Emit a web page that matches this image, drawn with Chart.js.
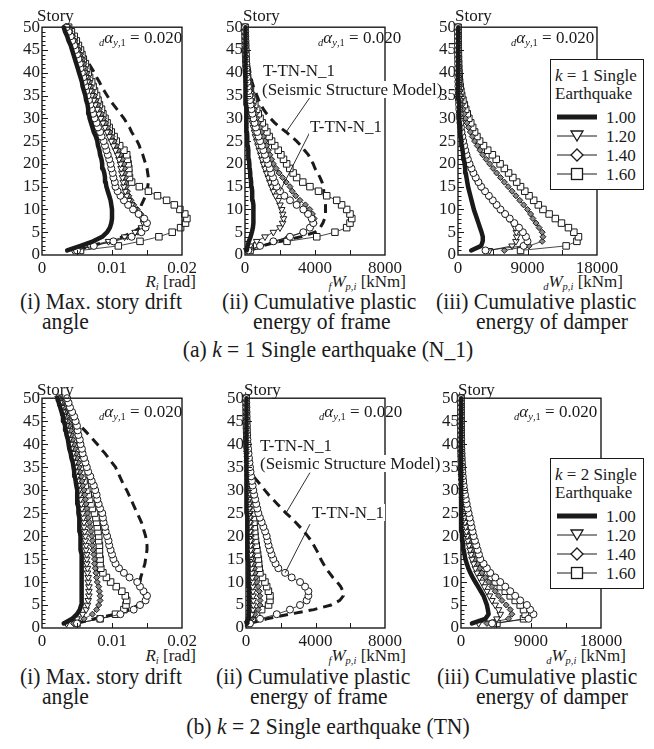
<!DOCTYPE html>
<html>
<head>
<meta charset="utf-8">
<script src="https://cdn.jsdelivr.net/npm/chart.js@4.4.1/dist/chart.umd.min.js"></script>
<style>
  body { margin: 0; background: #fff; }
  #page { position: relative; width: 654px; height: 749px; overflow: hidden; background: #fff;
          font-family: 'Liberation Serif', 'Times New Roman', serif; color: #1a1a1a; }
  #page canvas { position: absolute; }
  .t { position: absolute; white-space: nowrap; line-height: 1; }
  .t sub { font-size: 0.62em; vertical-align: -0.3em; line-height: 0; }
  .cap { transform: scaleX(0.9); transform-origin: left top; }
  .lab { background: #fff; z-index: 2; padding: 0 1px; }
  .legend { position: absolute; border: 1px solid #1a1a1a; background: #fff; z-index: 4; }
  .legend .t { font-size: 17px; }
</style>
</head>
<body>
<div id="page"></div>
<script>
// ---- data (stories 1..50, bottom to top) ----
const stories = [1,2,3,4,5,6,7,8,9,10,11,12,13,14,15,16,17,18,19,20,21,22,23,24,25,26,27,28,29,30,31,32,33,34,35,36,37,38,39,40,41,42,43,44,45,46,47,48,49,50];
const yTickLabels = ['0','5','10','15','20','25','30','35','40','45','50'];
const driftTickLabels = ['0', '0.01', '0.02'];
const frameTickLabels = ['0', '4000', '8000'];
const damperTickLabels = ['0', '9000', '18000'];
const driftMinor = [0.005, 0.01, 0.015];
const frameMinor = [2000, 4000, 6000];
const damperMinor = [4500, 9000, 13500];

// (a) k = 1, N_1 : max story drift angle [rad]
const aDrift100 = [0.0036,0.0055,0.0073,0.0086,0.0093,0.0097,0.0099,0.0100,0.0100,0.0100,0.0099,0.0098,0.0096,0.0094,0.0092,0.0091,0.0090,0.0089,0.0087,0.0086,0.0085,0.0083,0.0082,0.0080,0.0079,0.0077,0.0074,0.0072,0.0070,0.0068,0.0067,0.0066,0.0065,0.0063,0.0062,0.0060,0.0058,0.0057,0.0055,0.0053,0.0051,0.0049,0.0047,0.0045,0.0043,0.0041,0.0038,0.0036,0.0033,0.0031];
const aDrift120 = [0.0045,0.0068,0.0095,0.0118,0.0133,0.0142,0.0145,0.0143,0.0138,0.0133,0.0128,0.0124,0.0121,0.0119,0.0117,0.0116,0.0115,0.0114,0.0113,0.0112,0.0110,0.0108,0.0105,0.0102,0.0099,0.0096,0.0093,0.0090,0.0087,0.0084,0.0081,0.0079,0.0076,0.0074,0.0071,0.0069,0.0067,0.0065,0.0063,0.0061,0.0059,0.0057,0.0055,0.0053,0.0051,0.0048,0.0045,0.0042,0.0039,0.0036];
const aDrift140 = [0.0048,0.0072,0.0100,0.0122,0.0137,0.0145,0.0148,0.0146,0.0141,0.0136,0.0131,0.0127,0.0124,0.0122,0.0120,0.0119,0.0119,0.0118,0.0118,0.0117,0.0115,0.0112,0.0109,0.0106,0.0103,0.0100,0.0097,0.0094,0.0091,0.0088,0.0085,0.0082,0.0080,0.0077,0.0075,0.0072,0.0070,0.0068,0.0066,0.0064,0.0062,0.0060,0.0058,0.0055,0.0053,0.0050,0.0047,0.0044,0.0040,0.0037];
const aDrift160 = [0.0055,0.0109,0.0140,0.0167,0.0186,0.0198,0.0205,0.0207,0.0204,0.0197,0.0189,0.0178,0.0165,0.0152,0.0139,0.0128,0.0125,0.0124,0.0124,0.0123,0.0122,0.0121,0.0117,0.0111,0.0106,0.0103,0.0099,0.0096,0.0093,0.0090,0.0087,0.0085,0.0082,0.0080,0.0078,0.0075,0.0073,0.0071,0.0068,0.0066,0.0064,0.0062,0.0059,0.0057,0.0055,0.0052,0.0049,0.0046,0.0042,0.0038];
const aDriftTTN = [0.0050,0.0074,0.0102,0.0128,0.0142,0.0148,0.0150,0.0146,0.0138,0.0130,0.0123,0.0117,0.0112,0.0108,0.0105,0.0104,0.0102,0.0101,0.0099,0.0098,0.0096,0.0094,0.0092,0.0090,0.0088,0.0085,0.0083,0.0080,0.0078,0.0075,0.0073,0.0071,0.0069,0.0067,0.0065,0.0063,0.0062,0.0060,0.0059,0.0057,0.0055,0.0054,0.0052,0.0050,0.0048,0.0046,0.0043,0.0041,0.0038,0.0035];
const aDriftSSM = [0.0050,0.0070,0.0095,0.0115,0.0130,0.0140,0.0143,0.0142,0.0140,0.0140,0.0142,0.0145,0.0148,0.0150,0.0151,0.0152,0.0152,0.0151,0.0150,0.0148,0.0146,0.0144,0.0141,0.0139,0.0136,0.0132,0.0128,0.0125,0.0121,0.0117,0.0112,0.0107,0.0102,0.0097,0.0093,0.0089,0.0085,0.0082,0.0078,0.0075,0.0071,0.0067,0.0063,0.0059,0.0056,0.0052,0.0049,0.0045,0.0042,0.0038];

// (a) cumulative plastic energy of frame [kNm]
const aFrame100 = [100,150,220,320,390,450,480,490,490,480,460,440,420,400,380,350,320,300,270,250,220,200,180,160,140,120,110,100,90,80,70,60,55,50,45,40,35,30,30,25,20,20,20,20,20,20,20,20,20,20];
const aFrame120 = [100,290,670,1140,1620,2000,2150,2200,2150,2100,2000,1900,1750,1620,1520,1420,1330,1230,1140,1050,970,900,820,740,670,600,540,480,430,380,330,290,250,220,190,160,140,120,100,80,70,60,50,40,35,30,25,20,15,10];
const aFrame140 = [210,900,1700,2480,3300,3750,3950,3950,3850,3700,3450,3140,2900,2700,2570,2350,2150,1950,1780,1620,1520,1420,1330,1230,1140,1040,950,860,760,670,600,530,460,400,340,290,240,200,170,140,120,100,80,65,50,40,30,25,20,15];
const aFrame160 = [290,670,2400,4100,5140,5810,6000,6100,6000,5810,5520,5240,4670,4200,3710,3300,2950,2750,2560,2380,2200,2050,1900,1700,1520,1380,1250,1120,990,860,760,670,560,460,380,310,250,200,150,100,80,65,50,40,30,25,20,15,10,5];
const aFrameTTN = [190,860,1620,2570,3330,3710,3900,3810,3600,3330,2950,2570,2250,2000,1810,1700,1600,1500,1420,1330,1230,1140,1050,960,860,780,700,620,550,480,420,370,320,280,240,200,170,140,120,100,85,70,60,50,40,30,25,20,15,10];
const aFrameSSM = [300,1000,2000,3200,4000,4300,4450,4550,4600,4600,4600,4570,4530,4500,4480,4400,4290,4150,4000,3900,3750,3620,3400,3200,2950,2650,2350,2000,1700,1450,1240,1050,900,780,680,580,480,400,340,290,240,200,170,140,110,90,70,50,30,20];

// (a) cumulative plastic energy of damper [kNm]
const aDamper100 = [1700,3000,3200,3210,3050,2850,2650,2450,2250,2050,1900,1750,1600,1450,1300,1200,1100,1000,930,860,760,670,580,500,430,370,320,270,240,210,180,150,130,110,95,80,70,60,50,40,30,25,20,20,15,15,10,10,10,10];
const aDamper120 = [4070,7000,7500,7600,7550,7400,7150,6600,6000,5400,4900,4400,3900,3400,2900,2550,2200,1900,1650,1400,1200,1020,870,740,620,520,430,360,300,250,200,160,130,100,80,65,50,40,32,25,20,16,13,10,8,6,5,4,3,2];
const aDamper140 = [6000,9200,10900,11000,10900,10500,10100,9700,9400,9000,8500,8000,7500,7000,6500,6000,5500,5000,4550,4100,3650,3200,2850,2500,2150,1850,1600,1350,1150,950,800,650,520,420,330,260,210,160,125,95,75,58,45,35,28,22,17,13,10,8];
const aDamper160 = [8100,14000,15400,15600,15000,14300,13400,12600,11800,11000,10400,9800,9200,8650,8100,7600,7100,6550,6000,5450,4950,4450,3850,3300,2800,2450,2150,1900,1650,1400,1200,1000,820,640,480,370,280,210,160,120,95,75,60,48,38,30,23,18,14,10];
const aDamperTTN = [3560,8500,9000,8800,8400,7900,7300,6700,6100,5500,5000,4500,4000,3500,3000,2650,2300,2000,1750,1500,1280,1100,940,800,670,560,460,380,320,260,210,170,140,110,90,70,55,45,35,28,22,18,14,11,9,7,6,5,4,3];

// (b) k = 2, TN : max story drift angle [rad]
const bDrift100 = [0.0031,0.0043,0.0050,0.0054,0.0056,0.0057,0.0057,0.0057,0.0057,0.0057,0.0057,0.0057,0.0056,0.0056,0.0056,0.0056,0.0055,0.0055,0.0055,0.0055,0.0054,0.0054,0.0053,0.0053,0.0052,0.0052,0.0051,0.0051,0.0050,0.0050,0.0049,0.0048,0.0047,0.0046,0.0045,0.0044,0.0042,0.0041,0.0039,0.0038,0.0037,0.0035,0.0034,0.0033,0.0031,0.0030,0.0028,0.0026,0.0024,0.0022];
const bDrift120 = [0.0035,0.0050,0.0058,0.0063,0.0065,0.0066,0.0067,0.0067,0.0067,0.0066,0.0066,0.0065,0.0065,0.0064,0.0064,0.0064,0.0063,0.0063,0.0062,0.0062,0.0061,0.0060,0.0060,0.0059,0.0058,0.0057,0.0056,0.0055,0.0054,0.0053,0.0052,0.0051,0.0050,0.0049,0.0048,0.0047,0.0045,0.0044,0.0042,0.0041,0.0039,0.0038,0.0036,0.0035,0.0033,0.0031,0.0030,0.0028,0.0026,0.0023];
const bDrift140 = [0.0045,0.0060,0.0072,0.0078,0.0081,0.0083,0.0083,0.0082,0.0081,0.0079,0.0078,0.0077,0.0076,0.0075,0.0075,0.0074,0.0073,0.0072,0.0072,0.0071,0.0070,0.0069,0.0068,0.0066,0.0065,0.0064,0.0063,0.0062,0.0061,0.0060,0.0058,0.0057,0.0056,0.0054,0.0053,0.0052,0.0050,0.0049,0.0047,0.0046,0.0044,0.0042,0.0041,0.0039,0.0037,0.0035,0.0033,0.0031,0.0028,0.0025];
const bDrift160 = [0.0050,0.0083,0.0105,0.0117,0.0120,0.0121,0.0119,0.0114,0.0106,0.0098,0.0092,0.0087,0.0084,0.0083,0.0083,0.0082,0.0082,0.0082,0.0081,0.0081,0.0080,0.0079,0.0078,0.0077,0.0075,0.0072,0.0070,0.0068,0.0066,0.0064,0.0062,0.0060,0.0058,0.0057,0.0055,0.0054,0.0052,0.0050,0.0049,0.0047,0.0045,0.0043,0.0041,0.0039,0.0037,0.0035,0.0032,0.0030,0.0027,0.0025];
const bDriftTTN = [0.0050,0.0083,0.0112,0.0131,0.0140,0.0148,0.0150,0.0145,0.0140,0.0136,0.0125,0.0117,0.0110,0.0105,0.0102,0.0100,0.0098,0.0096,0.0095,0.0093,0.0091,0.0090,0.0088,0.0087,0.0086,0.0083,0.0081,0.0079,0.0078,0.0076,0.0074,0.0071,0.0069,0.0066,0.0064,0.0062,0.0060,0.0058,0.0057,0.0055,0.0054,0.0052,0.0051,0.0050,0.0048,0.0046,0.0043,0.0040,0.0038,0.0036];
const bDriftSSM = [0.0050,0.0075,0.0105,0.0125,0.0138,0.0144,0.0146,0.0144,0.0141,0.0140,0.0141,0.0143,0.0145,0.0147,0.0148,0.0149,0.0150,0.0150,0.0149,0.0148,0.0146,0.0144,0.0142,0.0139,0.0136,0.0133,0.0130,0.0127,0.0124,0.0121,0.0117,0.0114,0.0111,0.0108,0.0105,0.0100,0.0095,0.0090,0.0084,0.0079,0.0073,0.0067,0.0061,0.0055,0.0050,0.0045,0.0041,0.0038,0.0035,0.0033];

// (b) cumulative plastic energy of frame [kNm]
const bFrame100 = [60,120,160,180,190,190,185,180,170,160,150,140,130,120,110,100,95,90,85,80,75,70,65,60,55,50,48,45,42,40,38,36,34,32,30,28,26,24,22,20,18,16,15,14,13,12,11,10,10,10];
const bFrame120 = [90,200,330,400,420,420,410,400,390,380,360,340,320,300,290,280,270,260,250,240,230,220,210,200,190,180,170,160,150,140,130,120,110,100,90,80,70,60,55,50,45,40,35,30,25,22,20,18,16,15];
const bFrame140 = [120,300,500,700,800,810,800,760,700,610,560,520,480,440,410,380,360,340,320,300,285,270,255,240,225,210,195,180,165,150,135,120,108,96,85,75,65,57,50,44,38,33,29,26,23,20,18,16,14,12];
const bFrame160 = [150,350,610,900,1300,1380,1380,1290,1190,1090,950,800,760,730,710,670,630,590,550,520,500,480,460,440,420,400,380,360,345,330,300,270,240,210,180,150,120,100,80,65,55,45,38,32,27,23,20,17,15,13];
const bFrameTTN = [230,810,1770,2530,3110,3490,3590,3590,3400,3110,2630,2250,1860,1700,1570,1470,1380,1300,1240,1190,1100,1000,900,800,710,650,590,530,470,420,380,340,300,260,230,200,170,145,120,100,85,70,58,48,40,33,27,22,18,15];
const bFrameSSM = [230,1200,2500,3900,4900,5400,5600,5580,5450,5250,5000,4800,4600,4450,4300,4200,4050,3900,3750,3550,3350,3100,2850,2600,2300,2050,1800,1550,1300,1080,870,650,420,330,260,210,170,140,110,90,75,60,50,40,33,27,22,18,15,12];

// (b) cumulative plastic energy of damper [kNm]
const bDamper100 = [1410,3120,3550,3450,3330,3120,2900,2550,2200,1840,1500,1200,950,750,560,450,360,280,200,130,100,80,60,45,35,28,22,17,13,10,8,6,5,4,3,3,2,2,2,1,1,1,1,1,1,1,1,1,1,1];
const bDamper120 = [2270,4620,5050,4830,4400,3980,3660,3340,3010,2690,2370,2050,1840,1620,1410,1280,1150,1020,890,770,680,590,500,420,340,280,230,180,140,110,85,65,50,38,28,21,16,12,9,7,5,4,3,2,2,1,1,1,1,1];
const bDamper140 = [3340,6110,6540,6330,5820,5260,4830,4400,3980,3550,3120,2690,2410,2120,1840,1660,1490,1320,1150,980,870,760,660,560,470,390,320,260,210,170,130,100,78,60,45,34,26,20,15,11,8,6,5,4,3,2,2,1,1,1];
const bDamper160 = [4620,8040,8250,8040,7610,6970,6330,5690,5050,4400,3870,3340,2980,2620,2270,2100,1930,1760,1580,1410,1240,1090,950,850,770,660,560,470,390,320,260,210,165,130,100,78,60,46,35,27,21,16,12,9,7,5,4,3,2,2];
const bDamperTTN = [4000,8680,9320,8890,8470,7610,6970,6330,5690,5050,4410,3760,3330,2900,2480,2310,2140,1970,1790,1620,1490,1360,1240,1110,980,850,730,620,520,430,350,280,225,180,140,110,85,65,50,38,29,22,17,13,10,8,6,5,4,3];

const FONT = "'Liberation Serif', 'Times New Roman', serif";
const INK = '#1a1a1a';
Chart.defaults.font.family = FONT;
Chart.defaults.color = INK;

const page = document.getElementById('page');

function pts(vals) {
  return vals.map((v, i) => ({ x: v, y: stories[i] }));
}

// first dataset is drawn on top
function buildSets(s) {
  const sets = [];
  const base = { showLine: true, clip: false, borderColor: INK, borderWidth: 0.8, pointBorderColor: INK, pointBorderWidth: 1 };
  sets.push({ ...base, data: pts(s.k100), borderWidth: 4.5, pointRadius: 0, borderCapStyle: 'round', borderJoinStyle: 'round' });
  if (s.ttn) sets.push({ ...base, data: pts(s.ttn), pointStyle: 'circle', pointRadius: 3.5, pointBackgroundColor: '#fff' });
  sets.push({ ...base, data: pts(s.k120), pointStyle: 'triangle', rotation: 180, pointRadius: 3.8, pointBackgroundColor: '#fff' });
  sets.push({ ...base, data: pts(s.k140), pointStyle: 'rectRot', pointRadius: 3, pointBackgroundColor: '#8a8a8a' });
  sets.push({ ...base, data: pts(s.k160), pointStyle: 'rect', pointRadius: 4.6, pointBackgroundColor: '#fff' });
  if (s.ssm) sets.push({ ...base, data: pts(s.ssm), borderWidth: 3, borderDash: [9, 6], pointRadius: 0 });
  return sets;
}

// inside ticks, frame and leader lines
const frameTicks = {
  id: 'frameTicks',
  afterDatasetsDraw(chart, args, opts) {
    const { ctx, chartArea: a, scales: { x, y } } = chart;
    ctx.save();
    ctx.strokeStyle = INK;
    ctx.lineWidth = 1;
    ctx.beginPath();
    stories.slice(0, 49).forEach(s => {
      const py = Math.round(y.getPixelForValue(s)) + 0.5;
      const len = s % 5 === 0 ? 6 : 3.5;
      ctx.moveTo(a.left, py); ctx.lineTo(a.left + len, py);
    });
    opts.xMinor.forEach(v => {
      const px = Math.round(x.getPixelForValue(v)) + 0.5;
      ctx.moveTo(px, a.bottom); ctx.lineTo(px, a.bottom - 5);
    });
    ctx.stroke();
    ctx.lineWidth = 1.4;
    ctx.strokeRect(a.left, a.top, a.right - a.left, a.bottom - a.top);
    ctx.lineWidth = 0.9;
    (opts.leaders || []).forEach(l => {
      ctx.beginPath();
      ctx.moveTo(x.getPixelForValue(l.from[0]), y.getPixelForValue(l.from[1]));
      ctx.lineTo(x.getPixelForValue(l.series[l.story - 1]), y.getPixelForValue(l.story));
      ctx.stroke();
    });
    ctx.restore();
  }
};

function makePanel(p) {
  const cv = document.createElement('canvas');
  cv.width = p.W + 36 + 26;
  cv.height = p.H + 10 + 24;
  cv.style.zIndex = p.z;
  page.appendChild(cv);
  const chart = new Chart(cv, {
    type: 'scatter',
    data: { datasets: buildSets(p.series) },
    options: {
      responsive: false,
      animation: false,
      devicePixelRatio: 1,
      layout: { padding: { top: 10, right: 26, left: 0, bottom: 0 } },
      plugins: {
        legend: { display: false },
        tooltip: { enabled: false },
        frameTicks: { xMinor: p.xMinor, leaders: p.leaders }
      },
      scales: {
        x: {
          type: 'linear', min: 0, max: p.xMax,
          grid: { display: false, drawTicks: false }, border: { display: false },
          ticks: { stepSize: p.xMax / 2, autoSkip: false, maxRotation: 0, padding: 3, color: INK,
                   font: { family: FONT, size: 17 }, callback: (v, i) => p.xLabels[i] },
          afterFit: s => { s.height = 24; }
        },
        y: {
          type: 'linear', min: 0, max: 50,
          grid: { display: false, drawTicks: false }, border: { display: false },
          ticks: { stepSize: 5, autoSkip: false, padding: 2, color: INK,
                   font: { family: FONT, size: 17 }, callback: (v, i) => yTickLabels[i] },
          afterFit: s => { s.width = 36; }
        }
      }
    },
    plugins: [frameTicks]
  });
  const a = chart.chartArea;
  cv.style.left = (p.L - a.left) + 'px';
  cv.style.top = (p.T - a.top) + 'px';
}

const panels = [
  { L: 42, T: 27, W: 140, H: 230, z: 1, xMax: 0.02, xLabels: driftTickLabels, xMinor: driftMinor,
    series: { k100: aDrift100, k120: aDrift120, k140: aDrift140, k160: aDrift160, ttn: aDriftTTN, ssm: aDriftSSM } },
  { L: 245, T: 27, W: 140, H: 230, z: 1, xMax: 8000, xLabels: frameTickLabels, xMinor: frameMinor,
    series: { k100: aFrame100, k120: aFrame120, k140: aFrame140, k160: aFrame160, ttn: aFrameTTN, ssm: aFrameSSM },
    leaders: [ { from: [3714, 34.6], series: aFrameSSM, story: 27 }, { from: [3714, 27], series: aFrameTTN, story: 14 } ] },
  { L: 458, T: 27, W: 139, H: 230, z: 3, xMax: 18000, xLabels: damperTickLabels, xMinor: damperMinor,
    series: { k100: aDamper100, k120: aDamper120, k140: aDamper140, k160: aDamper160, ttn: aDamperTTN } },
  { L: 42, T: 398, W: 140, H: 232, z: 1, xMax: 0.02, xLabels: driftTickLabels, xMinor: driftMinor,
    series: { k100: bDrift100, k120: bDrift120, k140: bDrift140, k160: bDrift160, ttn: bDriftTTN, ssm: bDriftSSM } },
  { L: 246, T: 398, W: 139, H: 232, z: 1, xMax: 8000, xLabels: frameTickLabels, xMinor: frameMinor,
    series: { k100: bFrame100, k120: bFrame120, k140: bFrame140, k160: bFrame160, ttn: bFrameTTN, ssm: bFrameSSM },
    leaders: [ { from: [3680, 33.8], series: bFrameSSM, story: 25 }, { from: [3680, 22.6], series: bFrameTTN, story: 12 } ] },
  { L: 461, T: 398, W: 140, H: 232, z: 3, xMax: 18000, xLabels: damperTickLabels, xMinor: damperMinor,
    series: { k100: bDamper100, k120: bDamper120, k140: bDamper140, k160: bDamper160, ttn: bDamperTTN } }
];
panels.forEach(makePanel);

// ---- text ----
function addText(html, x, y, size, opts = {}) {
  const d = document.createElement('div');
  d.className = 't' + (opts.cls ? ' ' + opts.cls : '');
  d.innerHTML = html;
  d.style.top = y + 'px';
  d.style.fontSize = size + 'px';
  if (opts.right) d.style.right = (654 - x) + 'px'; else d.style.left = x + 'px';
  if (opts.center) { d.style.left = x + 'px'; d.style.transform = 'translateX(-50%) scaleX(0.9)'; d.style.transformOrigin = 'center top'; }
  if (opts.z) d.style.zIndex = opts.z;
  page.appendChild(d);
  return d;
}

const alphaLabel = '<sub><i>d</i></sub><i>α</i><sub><i>y</i>,1</sub> = 0.020';
const driftTitle = '<i>R</i><sub><i>i</i></sub> [rad]';
const frameTitle = '<sub><i>f</i></sub><i>W</i><sub><i>p,i</i></sub> [kNm]';
const damperTitle = '<sub><i>d</i></sub><i>W</i><sub><i>p,i</i></sub> [kNm]';

[[0, 7], [1, 381]].forEach(([row, top]) => {
  const dx = row ? [0, 1, 3] : [0, 0, 0];
  addText('Story', 37 + dx[0], top, 17, { z: 5 });
  addText('Story', 243 + dx[1], top, 17, { z: 5 });
  addText('Story', 455 + dx[2], top, 17, { z: 5 });
  const at = top + 22;
  addText(alphaLabel, 99, at, 17, { z: 5 });
  addText(alphaLabel, 318 + dx[1], at, 17, { z: 5 });
  addText(alphaLabel, 511 + dx[2], at, 17, { z: 5 });
  const xt = row ? 647 : 273;
  addText(driftTitle, 196, xt, 17, { right: true });
  addText(frameTitle, 406, xt, 17, { right: true });
  addText(damperTitle, 623 + dx[2], xt, 17, { right: true });
  const c1 = row ? 664 : 289, c2 = c1 + 20;
  addText('(i) Max. story drift', 20, c1, 24, { cls: 'cap' });
  addText('angle', 42, c2, 24, { cls: 'cap' });
  addText('(ii) Cumulative plastic', row ? 216 : 222, c1, 24, { cls: 'cap' });
  addText('energy of frame', row ? 250 : 253, c2, 24, { cls: 'cap' });
  addText('(iii) Cumulative plastic', row ? 437 : 436, c1, 24, { cls: 'cap' });
  addText('energy of damper', 476, c2, 24, { cls: 'cap' });
});
addText('(a) <i>k</i> = 1 Single earthquake (N_1)', 328, 337, 24, { center: true });
addText('(b) <i>k</i> = 2 Single earthquake (TN)', 328, 714, 24, { center: true });

// annotation labels in the frame-energy panels
addText('T-TN-N_1', 262, 62, 17, { cls: 'lab' });
addText('(Seismic Structure Model)', 261, 81, 17, { cls: 'lab' });
addText('T-TN-N_1', 309, 118, 17, { cls: 'lab' });
addText('T-TN-N_1', 259, 437, 17, { cls: 'lab' });
addText('(Seismic Structure Model)', 259, 455, 17, { cls: 'lab' });
addText('T-TN-N_1', 311, 504, 17, { cls: 'lab' });

// ---- legends ----
const legendValues = ['1.00', '1.20', '1.40', '1.60'];
const legendIcons = [
  '<line x1="0" y1="7" x2="40" y2="7" stroke="#1a1a1a" stroke-width="5"/>',
  '<line x1="0" y1="7" x2="40" y2="7" stroke="#1a1a1a" stroke-width="1"/><polygon points="14,2 26,2 20,12" fill="#fff" stroke="#1a1a1a" stroke-width="1.3"/>',
  '<line x1="0" y1="7" x2="40" y2="7" stroke="#1a1a1a" stroke-width="1"/><polygon points="20,1 26,7 20,13 14,7" fill="#fff" stroke="#1a1a1a" stroke-width="1.3"/>',
  '<line x1="0" y1="7" x2="40" y2="7" stroke="#1a1a1a" stroke-width="1"/><rect x="14.5" y="1.5" width="11" height="11" fill="#fff" stroke="#1a1a1a" stroke-width="1.3"/>'
];
function makeLegend(k, left, top) {
  const box = document.createElement('div');
  box.className = 'legend';
  box.style.left = left + 'px';
  box.style.top = top + 'px';
  box.style.width = '92px';
  box.style.height = '129px';
  page.appendChild(box);
  const add = (html, x, y) => {
    const d = document.createElement('div');
    d.className = 't';
    d.style.left = x + 'px';
    d.style.top = y + 'px';
    d.innerHTML = html;
    box.appendChild(d);
  };
  add('<i>k</i> = ' + k + ' Single', 4, 7);
  add('Earthquake', 4, 25);
  legendValues.forEach((v, i) => {
    const cy = [57, 76, 95, 114][i];
    add('<svg width="40" height="14" style="display:block">' + legendIcons[i] + '</svg>', 6, cy - 7);
    add(v, 55, cy - 8);
  });
}
makeLegend(1, 550, 59);
makeLegend(2, 550, 458);
</script>
</body>
</html>
